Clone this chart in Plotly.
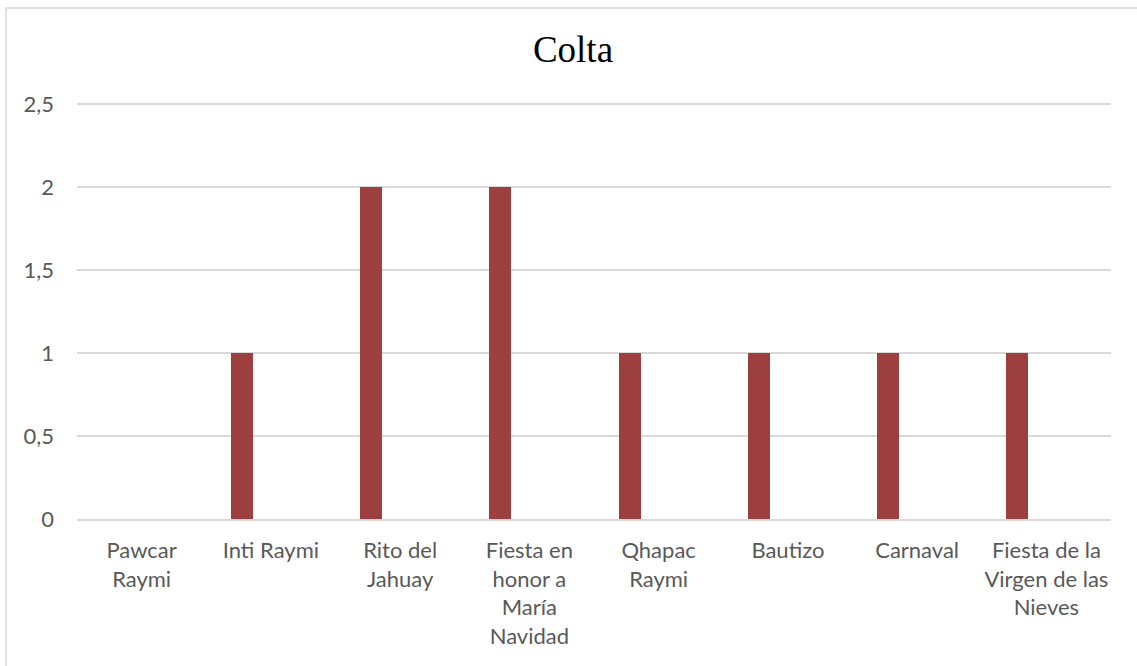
import plotly.graph_objects as go

categories = ["Pawcar<br>Raymi", "Inti Raymi", "Rito del<br>Jahuay",
              "Fiesta en<br>honor a<br>María<br>Navidad", "Qhapac<br>Raymi",
              "Bautizo", "Carnaval", "Fiesta de la<br>Virgen de las<br>Nieves"]
values = [0, 1, 2, 2, 1, 1, 1, 1]
y_ticks = [0, 0.5, 1, 1.5, 2, 2.5]
y_tick_labels = ["0", "0,5", "1", "1,5", "2", "2,5"]

W, H = 1137, 666
L, R, T, B = 77, 26, 102, 147
pw, ph = W - L - R, H - T - B
y_top = 2.5 * ph / 415.0

def px_x(p):
    return (p - L) / pw

def px_y(p):
    return (H - B - p) / ph

fig = go.Figure()
fig.add_trace(go.Bar(
    x=categories, y=values,
    marker=dict(color="#9E3F3F", line=dict(width=0)),
    width=0.17, offset=-0.309,
))

fig.update_layout(
    width=W, height=H,
    margin=dict(l=L, r=R, t=T, b=B),
    paper_bgcolor="white", plot_bgcolor="white",
    showlegend=False,
    title=dict(text="Colta", x=573 / W, xanchor="center", y=1 - 49 / H, yanchor="middle",
               font=dict(family="Liberation Serif", size=37, color="black")),
    font=dict(family="Lato", size=22, color="#595959"),
    bargap=0,
)
fig.update_xaxes(
    type="category", range=[-0.5, 7.5], showgrid=False,
    showline=True, linecolor="#D9D9D9", linewidth=1.5,
    ticks="", tickfont=dict(family="Lato", size=22, color="#595959"),
    ticklabelstandoff=11, tickangle=0,
)
fig.update_yaxes(
    range=[0, y_top], tickvals=y_ticks, ticktext=y_tick_labels,
    showgrid=True, gridcolor="#D9D9D9", gridwidth=1.5,
    zeroline=False, showline=False, ticks="",
    tickfont=dict(family="Lato", size=22, color="#595959"),
    ticklabelstandoff=22,
)
fig.add_shape(type="rect", xref="paper", yref="paper",
              x0=px_x(6), x1=px_x(1160), y0=px_y(700), y1=px_y(8),
              line=dict(color="#D9D9D9", width=1.5), fillcolor="rgba(0,0,0,0)",
              layer="below")

fig.write_html("out.html", config={"displayModeBar": False},
               post_script="document.body.style.margin='0';")
